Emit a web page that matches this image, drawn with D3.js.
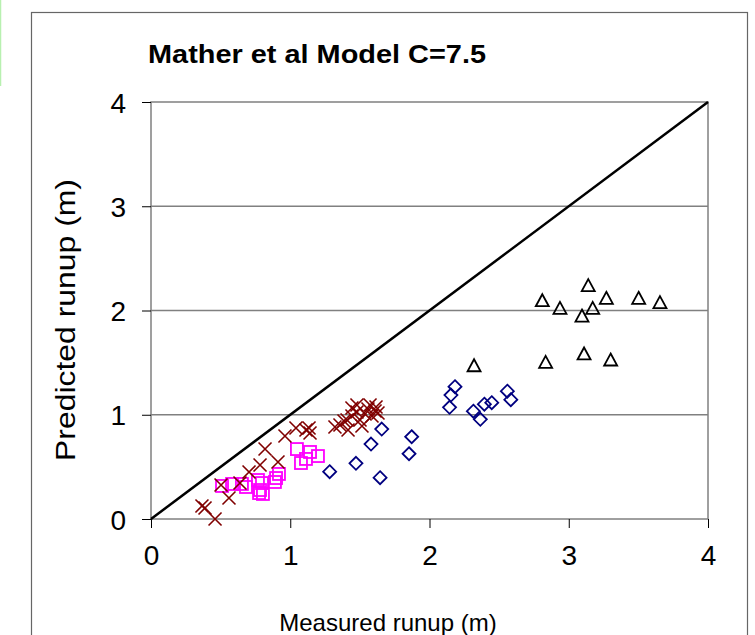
<!DOCTYPE html>
<html>
<head>
<meta charset="utf-8">
<script src="https://cdn.jsdelivr.net/npm/d3@7"></script>
<style>
  html, body { margin: 0; padding: 0; background: #ffffff; }
  svg { display: block; }
  text { font-family: "Liberation Sans", Arial, sans-serif; fill: #000; }
</style>
</head>
<body>
<svg id="chart" width="755" height="635"></svg>
<script>
// Measured vs predicted wave runup (m), Mather et al model, C = 7.5
const xTicks = [0, 1, 2, 3, 4];
const yTicks = [0, 1, 2, 3, 4];

// Site 1 (crosses)
const crossMeasured  = [0.366, 0.388, 0.46, 0.503, 0.56, 0.639, 0.704, 0.783, 0.819, 0.912, 0.962, 1.041, 1.113, 1.142, 1.135,
                        1.321, 1.357, 1.386, 1.415, 1.408, 1.443, 1.443, 1.479, 1.479, 1.501, 1.537, 1.558, 1.573, 1.587, 1.609, 1.616, 1.63, 1.515];
const crossPredicted = [0.125, 0.106, 0.0, 0.326, 0.201, 0.345, 0.451, 0.518, 0.672, 0.547, 0.796, 0.873, 0.854, 0.825, 0.873,
                        0.883, 0.902, 0.940, 0.854, 0.950, 0.988, 1.065, 1.026, 1.094, 0.950, 1.007, 1.055, 1.094, 0.988, 1.036, 1.074, 1.017, 0.892];

// Site 2 (squares)
const squareMeasured  = [0.510, 0.582, 0.653, 0.682, 0.768, 0.797, 0.783, 0.804, 0.776, 0.898, 0.919, 0.890, 1.048, 1.142, 1.199, 1.077, 1.113];
const squarePredicted = [0.317, 0.336, 0.336, 0.307, 0.374, 0.345, 0.278, 0.240, 0.249, 0.393, 0.432, 0.355, 0.671, 0.643, 0.604, 0.537, 0.576];

// Site 3 (diamonds)
const diamondMeasured  = [2.183, 2.154, 2.144, 2.315, 2.365, 2.394, 2.447, 2.559, 2.584, 1.657, 1.872, 1.853, 1.580, 1.472, 1.283, 1.645];
const diamondPredicted = [1.269, 1.189, 1.071, 1.034, 0.956, 1.101, 1.116, 1.226, 1.144, 0.863, 0.789, 0.626, 0.719, 0.534, 0.454, 0.396];

// Site 4 (triangles)
const triangleMeasured  = [2.81, 2.937, 3.14, 3.095, 3.172, 3.27, 3.502, 3.655, 2.32, 2.834, 3.11, 3.301];
const trianglePredicted = [2.094, 2.021, 2.238, 1.947, 2.021, 2.117, 2.117, 2.075, 1.47, 1.503, 1.583, 1.525];

const svg = d3.select("#chart");

// page-side decoration and chart frame
svg.append("line").attr("x1", 0.5).attr("x2", 0.5).attr("y1", 0).attr("y2", 86)
  .attr("stroke", "#b8f0b0").attr("stroke-width", 1.5);
svg.append("rect").attr("x", 31.5).attr("y", 12.5).attr("width", 716).attr("height", 640)
  .attr("fill", "#fff").attr("stroke", "#666").attr("stroke-width", 1.2);

const plot = { left: 151, right: 708, top: 102, bottom: 519 };
const x = d3.scaleLinear().domain([0, 4]).range([plot.left, plot.right]);
const y = d3.scaleLinear().domain([0, 4]).range([plot.bottom, plot.top]);

// title
svg.append("text").attr("x", 148).attr("y", 63)
  .attr("font-size", 25).attr("font-weight", "bold")
  .attr("textLength", 338).attr("lengthAdjust", "spacingAndGlyphs")
  .text("Mather et al Model C=7.5");

// horizontal gridlines
svg.append("g").selectAll("line").data(yTicks.filter(d => d > 0 && d < 4)).join("line")
  .attr("x1", plot.left).attr("x2", plot.right)
  .attr("y1", d => y(d)).attr("y2", d => y(d))
  .attr("stroke", "#808080").attr("stroke-width", 1.5);

// plot border
svg.append("rect").attr("x", plot.left).attr("y", plot.top)
  .attr("width", plot.right - plot.left).attr("height", plot.bottom - plot.top)
  .attr("fill", "none").attr("stroke", "#808080").attr("stroke-width", 1.5);

// axes
const yAxis = d3.axisLeft(y).tickValues(yTicks).tickFormat(d3.format("d")).tickSize(9).tickPadding(16);
const xAxis = d3.axisBottom(x).tickValues(xTicks).tickFormat(d3.format("d")).tickSize(9).tickPadding(17);

const gy = svg.append("g").attr("transform", `translate(${plot.left},0)`).call(yAxis);
const gx = svg.append("g").attr("transform", `translate(0,${plot.bottom})`).call(xAxis);
[gx, gy].forEach(g => {
  g.select(".domain").remove();
  g.selectAll(".tick line").attr("stroke", "#000").attr("stroke-width", 1);
  g.selectAll(".tick text").attr("font-size", 28).attr("font-family", "Liberation Sans, Arial, sans-serif").attr("fill", "#000");
});
gy.selectAll(".tick text").attr("dy", "0.36em");

// axis titles
svg.append("text").attr("x", 388).attr("y", 631).attr("text-anchor", "middle")
  .attr("font-size", 24).text("Measured runup (m)");
svg.append("text").attr("transform", "translate(75,320) rotate(-90)").attr("text-anchor", "middle")
  .attr("font-size", 27).attr("textLength", 282).attr("lengthAdjust", "spacingAndGlyphs")
  .text("Predicted runup (m)");

// 1:1 line
svg.append("line").attr("x1", x(0)).attr("y1", y(0)).attr("x2", x(4)).attr("y2", y(4))
  .attr("stroke", "#000").attr("stroke-width", 2.5);

const zip = (a, b) => a.map((v, i) => [v, b[i]]);

// diamonds
svg.append("g").selectAll("path").data(zip(diamondMeasured, diamondPredicted)).join("path")
  .attr("d", d => { const cx = x(d[0]), cy = y(d[1]), r = 6.5;
    return `M${cx},${cy - r}L${cx + r},${cy}L${cx},${cy + r}L${cx - r},${cy}Z`; })
  .attr("fill", "none").attr("stroke", "#000080").attr("stroke-width", 1.8);

// squares
svg.append("g").selectAll("rect").data(zip(squareMeasured, squarePredicted)).join("rect")
  .attr("x", d => x(d[0]) - 6).attr("y", d => y(d[1]) - 6).attr("width", 12).attr("height", 12)
  .attr("fill", "none").attr("stroke", "#ff00ff").attr("stroke-width", 1.8);

// crosses
svg.append("g").selectAll("path").data(zip(crossMeasured, crossPredicted)).join("path")
  .attr("d", d => { const cx = x(d[0]), cy = y(d[1]), r = 6.5;
    return `M${cx - r},${cy - r}L${cx + r},${cy + r}M${cx - r},${cy + r}L${cx + r},${cy - r}`; })
  .attr("fill", "none").attr("stroke", "#800000").attr("stroke-width", 1.6);

// triangles
svg.append("g").selectAll("path").data(zip(triangleMeasured, trianglePredicted)).join("path")
  .attr("d", d => { const cx = x(d[0]), cy = y(d[1]);
    return `M${cx},${cy - 6.5}L${cx + 6.5},${cy + 5.5}L${cx - 6.5},${cy + 5.5}Z`; })
  .attr("fill", "none").attr("stroke", "#000").attr("stroke-width", 1.8);
</script>
</body>
</html>
